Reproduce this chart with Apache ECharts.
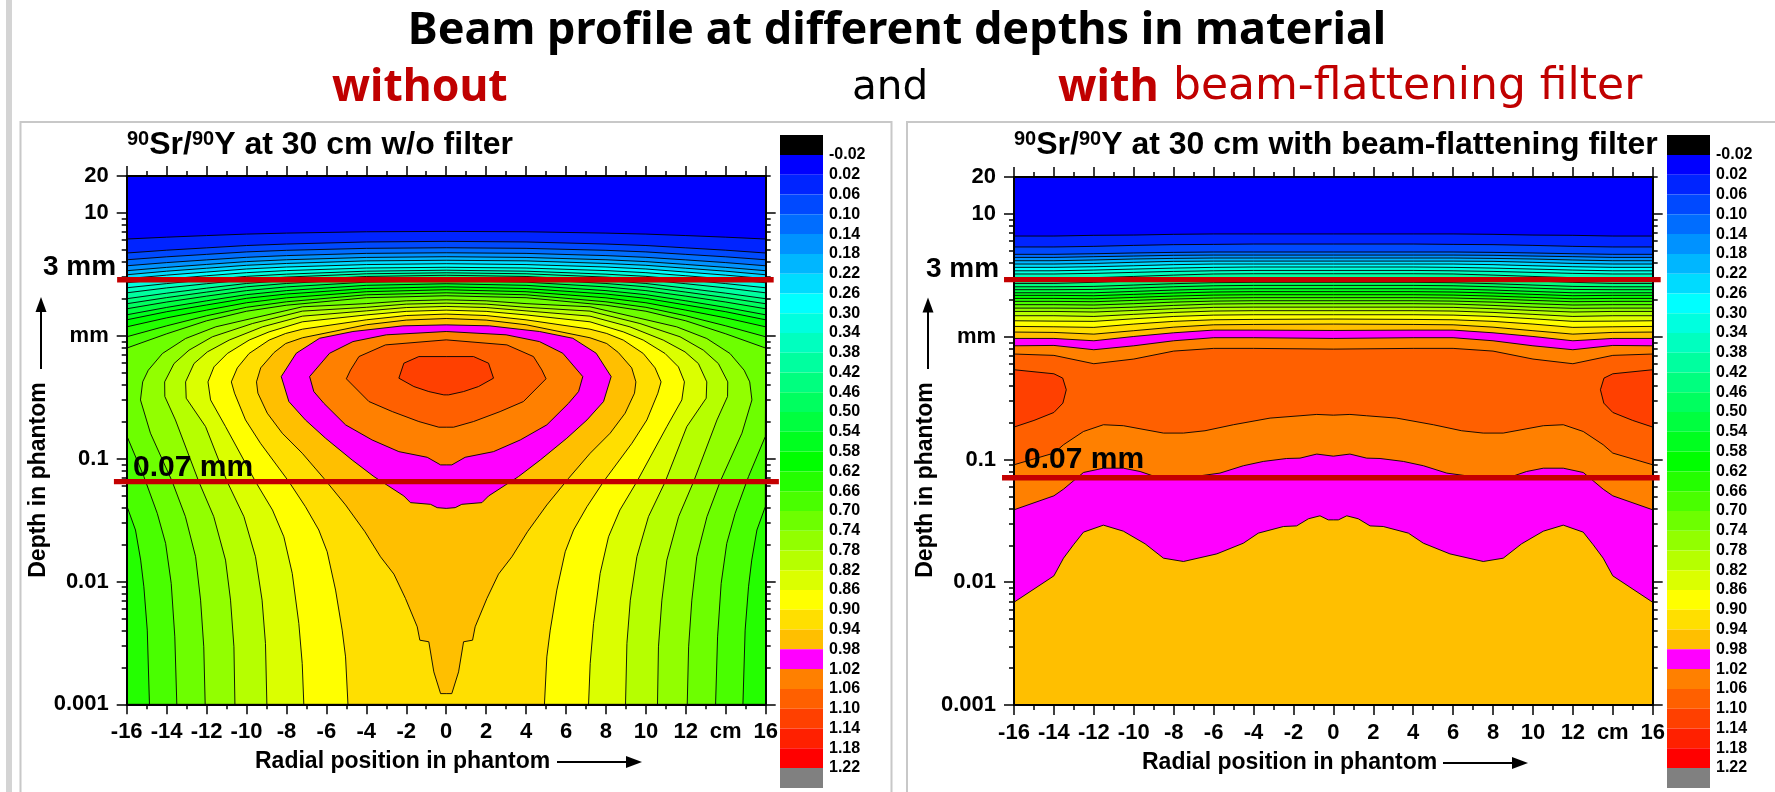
<!DOCTYPE html>
<html>
<head>
<meta charset="utf-8">
<style>html,body{margin:0;padding:0;background:#fff}#c{width:1775px;height:792px}</style>
<script src="https://cdn.jsdelivr.net/npm/echarts@6/dist/echarts.min.js"></script>
</head>
<body>
<div id="c"></div>
<script>
// Colour-scale tick labels (relative dose)
const levelTicks = [-0.02,0.02,0.06,0.10,0.14,0.18,0.22,0.26,0.30,0.34,0.38,0.42,0.46,0.50,0.54,0.58,0.62,0.66,0.70,0.74,0.78,0.82,0.86,0.90,0.94,0.98,1.02,1.06,1.10,1.14,1.18,1.22];
const cellColors = ['#000000','#0000ff','#0024ff','#0049ff','#006dff','#0092ff','#00b6ff','#00dbff','#00ffff','#00ffdf','#00ffbf','#00ff9f','#00ff7f','#00ff5f','#00ff3f','#00ff1f','#00ff00','#24ff00','#49ff00','#6dff00','#92ff00','#b6ff00','#dbff00','#ffff00','#ffdf00','#ffbf00','#ff00ff','#ff8000','#ff6000','#ff4000','#ff2000','#ff0000','#808080'];
const xTickLabels = {'14':'cm'};
const majorDepthTicks = [0.001,0.01,0.1,1,10,20];
const minorDepthTicks = [0.002,0.003,0.004,0.005,0.006,0.007,0.008,0.009,0.02,0.03,0.04,0.05,0.06,0.07,0.08,0.09,0.2,0.3,0.4,0.5,0.6,0.7,0.8,0.9,2,3,4,5,6,7,8,9];

// Left plot (no filter). Depths are log10(mm); right half of each contour, the field is symmetric about x = 0.
const leftStations = [0,4,8,10,12,14,16];
const leftRows = {
 '0.02':[.850,.847,.836,.828,.816,.803,.788],
 '0.06':[.769,.764,.747,.735,.716,.697,.674],
 '0.10':[.717,.712,.696,.683,.663,.643,.619],
 '0.14':[.676,.671,.653,.639,.618,.596,.570],
 '0.18':[.644,.638,.619,.604,.581,.557,.530],
 '0.22':[.615,.610,.589,.574,.550,.526,.497],
 '0.26':[.587,.580,.560,.544,.519,.494,.465],
 '0.30':[.558,.552,.531,.514,.489,.462,.432],
 '0.34':[.534,.526,.502,.484,.456,.425,.391],
 '0.38':[.513,.505,.478,.456,.424,.390,.350],
 '0.42':[.493,.483,.451,.426,.388,.347,.302],
 '0.46':[.473,.462,.426,.399,.356,.311,.261],
 '0.50':[.448,.437,.398,.368,.323,.275,.220],
 '0.54':[.424,.411,.368,.335,.285,.231,.171],
 '0.58':[.399,.385,.340,.305,.251,.196,.130],
 '0.62':[.375,.359,.309,.269,.209,.146,.073]
};
const leftPaths = {
 '0.66':[[0,.350],[4,.334],[8,.277],[10,.232],[12,.163],[14,.081],[16,-.008],[15.98,-1.391],[15.56,-1.581],[15.3,-1.826],[15.14,-2.043],[14.97,-2.396],[14.86,-3]],
 '0.70':[[0,.326],[4,.310],[8,.249],[10,.200],[12,.122],[14,.016],[16,-.100],[15.98,-.820],[15.14,-1.146],[14.47,-1.445],[14.05,-1.69],[13.77,-2.016],[13.59,-2.451],[13.49,-3]],
 '0.74':[[0,.293],[2,.285],[4,.262],[7.2,.236],[9.37,.155],[11.54,.073],[13.05,-.022],[14.21,-.144],[14.92,-.280],[15.2,-.375],[15.31,-.522],[14.81,-.793],[13.72,-1.187],[13.06,-1.472],[12.55,-1.798],[12.3,-2.152],[12.14,-2.532],[12.07,-3]],
 '0.78':[[0,.266],[2,.258],[4,.232],[7.2,.201],[9.7,.100],[11.71,-.008],[12.88,-.117],[13.63,-.226],[14.1,-.375],[14.09,-.494],[13.56,-.685],[12.39,-1.187],[11.64,-1.472],[11.05,-1.826],[10.8,-2.152],[10.63,-2.532],[10.58,-3]],
 '0.82':[[0,.239],[2,.230],[4,.203],[7.2,.160],[9.2,.073],[10.87,-.035],[11.96,-.131],[12.63,-.226],[13.05,-.375],[13.02,-.508],[12.05,-.739],[10.97,-1.187],[10.13,-1.472],[9.55,-1.798],[9.22,-2.152],[9.05,-2.505],[8.98,-3]],
 '0.86':[[0,.209],[2,.199],[4,.170],[7.2,.114],[8.87,.032],[9.87,-.035],[10.96,-.144],[11.63,-.253],[11.93,-.375],[11.8,-.522],[11.05,-.739],[9.55,-1.187],[8.7,-1.418],[8.13,-1.636],[7.71,-1.934],[7.38,-2.342],[7.21,-2.668],[7.13,-3]],
 '0.90':[[0,.177],[2,.165],[4,.130],[7.2,.054],[8.04,.019],[8.87,-.035],[9.87,-.144],[10.46,-.261],[10.76,-.375],[10.6,-.467],[10.05,-.685],[9.3,-.875],[7.88,-1.187],[7.05,-1.391],[6.38,-1.581],[5.96,-1.758],[5.54,-2.070],[5.21,-2.396],[5.04,-2.614],[4.92,-3]],
 '0.94':[[0,.141],[2,.128],[4,.090],[7.2,-.016],[8.04,-.063],[8.62,-.136],[9.29,-.261],[9.5,-.375],[9.43,-.467],[8.96,-.630],[8.21,-.793],[7.21,-.956],[6.13,-1.160],[5.04,-1.377],[4.07,-1.595],[3.29,-1.799],[2.62,-1.940],[2.04,-2.138],[1.45,-2.369],[1.32,-2.478],[.87,-2.491],[.62,-2.736],[.28,-2.913],[0,-2.913]],
 '0.98':[[0,.089],[2.17,.081],[4.67,.035],[6.34,-.020],[7.51,-.142],[8.26,-.332],[7.88,-.535],[7.05,-.685],[6.04,-.834],[4.71,-1.011],[3.62,-1.146],[2.12,-1.304],[1.79,-1.358],[.78,-1.372],[.45,-1.399],[0,-1.405]],
 '1.02':[[0,.035],[3,.008],[4.67,-.047],[5.84,-.142],[6.84,-.332],[6.63,-.454],[6.13,-.549],[5.04,-.725],[3.71,-.848],[2.37,-.943],[.95,-.989],[.28,-1.051],[0,-1.051]],
 '1.06':[[0,-.033],[3.04,-.074],[4.37,-.169],[4.79,-.278],[5,-.350],[3.87,-.535],[2.7,-.617],[1.37,-.698],[.37,-.744],[0,-.744]],
 '1.10':[[0,-.169],[1.37,-.169],[2.12,-.223],[2.37,-.345],[1.62,-.413],[.87,-.454],[.12,-.481],[0,-.481]]
};

// Right plot (with flattening filter)
const rightStations = [0,4,6,8,10,12,14,16];
const rightRows = {
 '0.02':[.837,.837,.837,.834,.828,.826,.820,.820],
 '0.06':[.755,.755,.752,.750,.744,.736,.731,.731],
 '0.10':[.690,.690,.690,.687,.682,.676,.671,.671],
 '0.14':[.665,.665,.665,.663,.657,.652,.646,.646],
 '0.18':[.641,.641,.641,.638,.633,.625,.619,.619],
 '0.22':[.616,.616,.616,.614,.606,.597,.592,.592],
 '0.26':[.592,.592,.592,.587,.578,.570,.565,.565],
 '0.30':[.568,.568,.565,.559,.551,.543,.537,.537],
 '0.34':[.540,.540,.537,.532,.524,.516,.511,.511],
 '0.38':[.513,.513,.511,.502,.491,.481,.470,.470],
 '0.42':[.475,.475,.473,.464,.454,.443,.434,.434],
 '0.46':[.443,.443,.440,.432,.421,.410,.407,.407],
 '0.50':[.418,.418,.415,.407,.396,.385,.383,.383],
 '0.54':[.391,.391,.388,.380,.369,.358,.358,.358],
 '0.58':[.367,.367,.364,.356,.345,.334,.337,.337],
 '0.62':[.342,.342,.339,.331,.320,.309,.312,.312],
 '0.66':[.318,.318,.315,.307,.296,.285,.288,.288],
 '0.70':[.293,.293,.290,.282,.269,.258,.261,.261],
 '0.74':[.269,.269,.266,.255,.241,.231,.233,.233],
 '0.78':[.241,.241,.239,.228,.214,.201,.206,.206],
 '0.82':[.212,.212,.209,.198,.182,.165,.171,.171],
 '0.86':[.179,.179,.176,.165,.146,.125,.127,.130],
 '0.90':[.144,.141,.138,.125,.103,.076,.081,.084],
 '0.94':[.103,.100,.097,.078,.049,.021,.035,.038]
};
const rightTops = {
 '0.98':[.051,.054,.054,.032,.002,-.033,-.014,-.014],
 '1.02':[-.014,-.008,-.008,-.033,-.074,-.106,-.071,-.074],
 '1.06':[-.101,-.095,-.095,-.117,-.182,-.220,-.152,-.141]
};
const rightLowers = {
 '0.98':[[16,-2.163],[14,-1.948],[13.52,-1.804],[13.02,-1.695],[12.52,-1.592],[11.52,-1.535],[10.52,-1.584],[9.43,-1.687],[8.51,-1.804],[7.51,-1.831],[5.84,-1.769],[4.51,-1.682],[3.76,-1.600],[2.5,-1.546],[1.84,-1.541],[1.25,-1.483],[.67,-1.459],[.25,-1.492],[0,-1.492]],
 '1.02':[[16,-1.410],[14,-1.296],[13.52,-1.242],[12.52,-1.106],[11.52,-1.071],[10.52,-1.071],[9.68,-1.098],[8.85,-1.144],[7.85,-1.152],[6.68,-1.133],[5.68,-1.111],[4.51,-1.051],[3.51,-1.016],[2.34,-.992],[1.67,-.989],[.83,-.956],[0,-.973]],
 '1.06':[[16,-1.043],[14,-.948],[13.52,-.880],[12.52,-.772],[11.52,-.717],[10.52,-.725],[8.51,-.785],[7.51,-.785],[6.43,-.766],[5.01,-.717],[3.17,-.663],[1.67,-.644],[.83,-.633],[0,-.639]]
};
const rightPocket110 = [[16,-.269],[14,-.302],[13.56,-.337],[13.38,-.432],[13.55,-.541],[14,-.617],[15,-.682],[16,-.736]];

// Reference lines: [xStart, xEnd, depth mm]
const leftMarks = [[-16.48,16.4,2.86],[-16.64,16.66,0.065]];
const rightMarks = [[-16.5,16.4,2.92],[-16.6,16.35,0.071]];

const fillOf = lv => cellColors[levelTicks.findIndex(t => Math.abs(t - lv) < 1e-6) + 1];
const closeMirror = half => half.concat(half.slice().reverse().map(p => [-p[0], p[1]]));
const TOP = Math.log10(20), BOT = -3;
const base = {level:-0.02, pts:[[-16,TOP],[16,TOP],[16,BOT],[-16,BOT]]};

const leftPolys = [base];
Object.keys(leftRows).forEach(k => {
  const h = leftStations.map((x,i)=>[x,leftRows[k][i]]); h.push([16,BOT]);
  leftPolys.push({level:+k, pts:closeMirror(h)});
});
Object.keys(leftPaths).forEach(k => {
  leftPolys.push({level:+k, pts:closeMirror(leftPaths[k])});
});
const rightPolys = [base];
Object.keys(rightRows).forEach(k => {
  const h = rightStations.map((x,i)=>[x,rightRows[k][i]]); h.push([16,BOT]);
  rightPolys.push({level:+k, pts:closeMirror(h)});
});
Object.keys(rightTops).forEach(k => {
  const h = rightStations.map((x,i)=>[x,rightTops[k][i]]).concat(rightLowers[k]);
  rightPolys.push({level:+k, pts:closeMirror(h)});
});
rightPolys.push({level:1.10, pts:rightPocket110}, {level:1.10, pts:rightPocket110.map(p=>[-p[0],p[1]])});

function contourSeries(polys, idx){
  return {
    type:'custom', coordinateSystem:'cartesian2d', xAxisIndex:idx*2, yAxisIndex:idx*4,
    z:2, silent:true, animation:false, clip:true,
    data: polys.map((p,i)=>[0,1,i]),
    encode:{x:0,y:1},
    renderItem:(params,api)=>{
      const p = polys[api.value(2)];
      const pts = p.pts.map(q=>api.coord([q[0],Math.pow(10,q[1])]));
      return {type:'polygon', shape:{points:pts},
        style:{fill:fillOf(p.level), stroke:p.level<0?'none':'#000', lineWidth:0.9}};
    }
  };
}
function markSeries(marks, idx){
  return {
    type:'custom', coordinateSystem:'cartesian2d', xAxisIndex:idx*2, yAxisIndex:idx*4, z:20, clip:false, silent:true, animation:false,
    data: marks,
    encode:{x:0,y:2},
    renderItem:(params,api)=>{
      const a = api.coord([api.value(0),api.value(2)]), b = api.coord([api.value(1),api.value(2)]);
      return {type:'line', shape:{x1:a[0],y1:a[1],x2:b[0],y2:b[1]}, style:{stroke:'#c40000',lineWidth:5.3}};
    }
  };
}
function barSeries(idx){
  const edges = [-0.0605].concat(levelTicks,[1.2605]);
  return {
    type:'custom', coordinateSystem:'cartesian2d', xAxisIndex:4+idx, yAxisIndex:8+idx, z:2, silent:true, animation:false,
    data: cellColors.map((c,i)=>[0,edges[i],edges[i+1],i]),
    encode:{x:0,y:1},
    renderItem:(params,api)=>{
      const a = api.coord([0,api.value(1)]), b = api.coord([1,api.value(2)]);
      return {type:'rect', shape:{x:a[0],y:a[1],width:b[0]-a[0],height:b[1]-a[1]},
        style:{fill:cellColors[api.value(3)]}};
    }
  };
}

const FONT = '"Liberation Sans", Arial, sans-serif';
const lblStyle = {color:'#000',fontFamily:FONT,fontWeight:'bold',fontSize:22};
const axisLine = {show:true,onZero:false,lineStyle:{color:'#000',width:2}};
const hiddenLine = {show:false,onZero:false};

function xAxes(grid){
  const common = {type:'value',gridIndex:grid,min:-16,max:16,interval:2,splitLine:{show:false},z:10,
    axisLine, minorTick:{show:true,splitNumber:2,length:5,lineStyle:{color:'#000',width:1.5}},
    axisTick:{show:true,length:10,lineStyle:{color:'#000',width:1.5}},minorSplitLine:{show:false}};
  return [
    Object.assign({},common,{position:'bottom',
      axisLabel:Object.assign({},lblStyle,{margin:17,showMinLabel:true,showMaxLabel:true,hideOverlap:false,
        formatter:v=>xTickLabels[v]||String(v)})}),
    Object.assign({},common,{position:'top',axisLabel:{show:false}})
  ];
}
function yAxes(grid){
  const common = {type:'log',logBase:10,gridIndex:grid,min:0.001,max:20,splitLine:{show:false},z:10};
  const fmt = v => { const r = +(+v).toPrecision(3); return r===1?'mm':String(r); };
  return [
    Object.assign({},common,{position:'left',axisLine,
      axisTick:{show:true,length:10,customValues:majorDepthTicks,lineStyle:{color:'#000',width:1.5}},
      axisLabel:Object.assign({},lblStyle,{margin:18,customValues:majorDepthTicks,formatter:fmt})}),
    Object.assign({},common,{position:'left',axisLine:hiddenLine,
      axisTick:{show:true,length:5,customValues:minorDepthTicks,lineStyle:{color:'#000',width:1.5}},axisLabel:{show:false}}),
    Object.assign({},common,{position:'right',axisLine,
      axisTick:{show:true,length:10,customValues:majorDepthTicks.slice(0,5),lineStyle:{color:'#000',width:1.5}},axisLabel:{show:false}}),
    Object.assign({},common,{position:'right',axisLine:hiddenLine,
      axisTick:{show:true,length:5,customValues:minorDepthTicks.concat([20]),lineStyle:{color:'#000',width:1.5}},axisLabel:{show:false}})
  ];
}
function barAxes(grid){
  return {
    x:{type:'value',gridIndex:grid,min:0,max:1,show:false},
    y:{type:'value',gridIndex:grid,min:-0.0605,max:1.2605,inverse:true,position:'right',splitLine:{show:false},
       axisLine:{show:false,onZero:false},axisTick:{show:false},
       axisLabel:{color:'#000',fontFamily:FONT,fontWeight:'bold',fontSize:16,margin:6,customValues:levelTicks,
         formatter:v=>(+v).toFixed(2)}}
  };
}
const b0=barAxes(2), b1=barAxes(3);

function txt(text,x,y,size,opt){
  return {type:'text',z:100,silent:true,style:Object.assign({text,x,y,fontFamily:FONT,fontWeight:'bold',fontSize:size,fill:'#000',textAlign:'left',textVerticalAlign:'middle'},opt||{})};
}
function vTxt(text,x,y,size){
  return {type:'text',z:100,silent:true,rotation:Math.PI/2,x,y,style:{text,x:0,y:0,fontFamily:FONT,fontWeight:'bold',fontSize:size,fill:'#000',textAlign:'center',textVerticalAlign:'middle'}};
}
function plotTitle(rest,x){
  return {type:'text',z:100,silent:true,style:{x,y:145,textVerticalAlign:'middle',
    text:'{s|90}{b|Sr/}{s|90}{b|'+rest+'}',
    rich:{s:{fontFamily:FONT,fontWeight:'bold',fontSize:20,verticalAlign:'top',lineHeight:20,height:20,fill:'#000'},
          b:{fontFamily:FONT,fontWeight:'bold',fontSize:32,lineHeight:32,height:32,verticalAlign:'bottom',fill:'#000'}}}};
}
function vArrow(x,tip,end){
  return [{type:'line',z:100,silent:true,shape:{x1:x,y1:tip+10,x2:x,y2:end},style:{stroke:'#000',lineWidth:2}},
          {type:'polygon',z:100,silent:true,shape:{points:[[x,tip],[x-5.5,tip+15],[x+5.5,tip+15]]},style:{fill:'#000'}}];
}
function hArrow(x1,x2,y){
  return [{type:'line',z:100,silent:true,shape:{x1,y1:y,x2:x2-10,y2:y},style:{stroke:'#000',lineWidth:2}},
          {type:'polygon',z:100,silent:true,shape:{points:[[x2,y],[x2-16,y-6],[x2-16,y+6]]},style:{fill:'#000'}}];
}
const HEADB = '"Noto Sans", sans-serif';
const HEADR = '"DejaVu Sans", sans-serif';
const RED = '#c00000';
const graphics = [
  {type:'rect',z:-10,silent:true,shape:{x:6,y:0,width:6,height:792},style:{fill:'#d4d4d4'}},
  {type:'rect',z:-10,silent:true,shape:{x:20.5,y:122,width:871,height:690},style:{fill:'#fff',stroke:'#c8c8c8',lineWidth:2}},
  {type:'rect',z:-10,silent:true,shape:{x:907,y:122,width:900,height:690},style:{fill:'#fff',stroke:'#c8c8c8',lineWidth:2}},
  txt('Beam profile at different depths in material',897,31,45,{fontFamily:HEADB,textAlign:'center'}),
  txt('without',332,88,44.5,{fontFamily:HEADB,fill:RED}),
  txt('and',852,88,40.5,{fontFamily:HEADR,fontWeight:'normal'}),
  txt('with',1058,88,45,{fontFamily:HEADB,fill:RED}),
  txt('beam-flattening filter',1173,88,44,{fontFamily:HEADR,fontWeight:'normal',fill:RED}),
  plotTitle('Y at 30 cm w/o filter',127),
  plotTitle('Y at 30 cm with beam-flattening filter',1014),
  txt('3 mm',43,267,28), txt('3 mm',926,269,28),
  txt('0.07 mm',133,468,30), txt('0.07 mm',1024,460,30),
  vTxt('Depth in phantom',39,480,23), vTxt('Depth in phantom',926,480,23),
  txt('Radial position in phantom',255,762,23),
  txt('Radial position in phantom',1142,763,23)
].concat(vArrow(41,297,369),vArrow(928,297.5,369),hArrow(557,642,762),hArrow(1443,1528,763));

const chart = echarts.init(document.getElementById('c'),null,{renderer:'canvas'});
chart.setOption({
  animation:false,
  backgroundColor:'#fff',
  grid:[
    {left:126.7,top:176,width:639,height:528.3,containLabel:false},
    {left:1014,top:177,width:638.7,height:528,containLabel:false},
    {left:780,top:135,width:43,height:653,containLabel:false},
    {left:1667,top:135,width:43,height:653,containLabel:false}
  ],
  xAxis:[...xAxes(0),...xAxes(1),b0.x,b1.x],
  yAxis:[...yAxes(0),...yAxes(1),b0.y,b1.y],
  graphic:graphics,
  series:[contourSeries(leftPolys,0),contourSeries(rightPolys,1),markSeries(leftMarks,0),markSeries(rightMarks,1),barSeries(0),barSeries(1)]
});
</script>
</body>
</html>
